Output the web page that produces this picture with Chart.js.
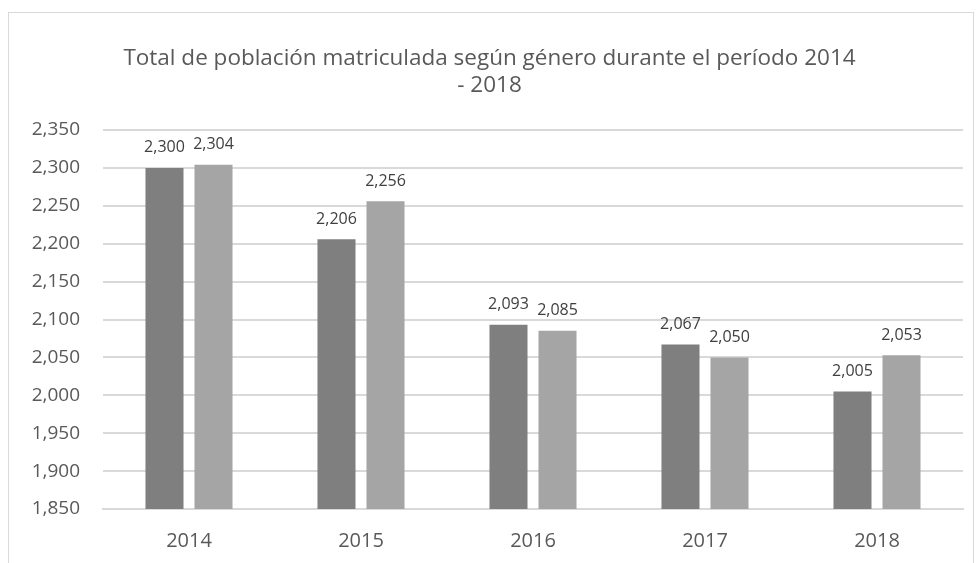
<!DOCTYPE html>
<html>
<head>
<meta charset="utf-8">
<script src="https://cdn.jsdelivr.net/npm/chart.js@4"></script>
<style>
  html, body { margin: 0; padding: 0; background: #fff; }
  #frame {
    position: absolute; left: 8px; top: 12px; width: 966px; height: 560px;
    border: 1px solid #d9d9d9; border-bottom: none; box-sizing: border-box;
  }
  #wrap { position: absolute; left: 0; top: 0; width: 979px; height: 563px; }
</style>
</head>
<body>
<div id="frame"></div>
<div id="wrap"><canvas id="myChart" width="979" height="563"></canvas></div>
<script>
// datos
const years = ["2014", "2015", "2016", "2017", "2018"];
const seriesA = [2300, 2206, 2093, 2067, 2005];
const seriesB = [2304, 2256, 2085, 2050, 2053];
const titleLines = ["Total de población matriculada según género durante el período 2014", "- 2018"];

const fontFam = "'Open Sans', 'Noto Sans', sans-serif";
const fmt = (v) => v.toLocaleString("en-US");

// etiquetas encima de cada barra
const valueLabels = {
  id: "valueLabels",
  afterDatasetsDraw(chart) {
    const ctx = chart.ctx;
    ctx.save();
    ctx.font = "16px " + fontFam;
    ctx.fillStyle = "#404040";
    ctx.textAlign = "center";
    ctx.textBaseline = "middle";
    chart.data.datasets.forEach((ds, i) => {
      chart.getDatasetMeta(i).data.forEach((bar, j) => {
        ctx.fillText(fmt(ds.data[j]), bar.x, bar.y - 20);
      });
    });
    ctx.restore();
  },
};

new Chart(document.getElementById("myChart"), {
  type: "bar",
  data: {
    labels: years,
    datasets: [
      { label: "A", data: seriesA, backgroundColor: "#7f7f7f" },
      { label: "B", data: seriesB, backgroundColor: "#a5a5a5" },
    ],
  },
  options: {
    responsive: false,
    animation: false,
    categoryPercentage: 0.57,
    barPercentage: 0.776,
    layout: { padding: { left: 16, right: 16, top: 45, bottom: -2 } },
    plugins: {
      legend: { display: false },
      tooltip: { enabled: false },
      title: {
        display: true,
        text: titleLines,
        color: "#595959",
        font: { family: fontFam, size: 22.5, weight: "normal" },
        lineHeight: 1.5,
        padding: { top: 0, bottom: 31 },
      },
    },
    scales: {
      x: {
        grid: { display: false },
        border: { color: "#d9d9d9", width: 2 },
        ticks: { color: "#595959", font: { family: fontFam, size: 20 }, padding: 12 },
      },
      y: {
        min: 1850,
        max: 2350,
        afterFit: (scale) => { scale.width = 87; },
        grid: { color: "#d9d9d9", lineWidth: 2, drawTicks: false },
        border: { display: false },
        ticks: {
          stepSize: 50,
          color: "#595959",
          font: { family: fontFam, size: 19 },
          padding: 23,
          callback: (v) => fmt(v),
        },
      },
    },
  },
  plugins: [valueLabels],
});
</script>
</body>
</html>
